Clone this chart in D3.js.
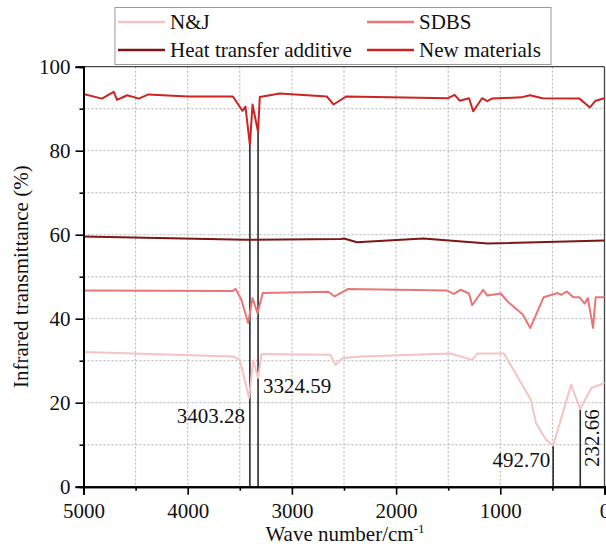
<!DOCTYPE html>
<html>
<head>
<meta charset="utf-8">
<script src="https://cdn.jsdelivr.net/npm/d3@7"></script>
<style>
  body { margin: 0; background: #fff; }
  svg { font-family: "Liberation Serif", "Times New Roman", serif; }
</style>
</head>
<body>
<div class="irChart"></div>
<script>
const WIDTH = 606;
const HEIGHT = 548;
const LEFT = 83.5, RIGHT = 604.5, TOP = 66.7, BOTTOM = 486.7;
const SERIF = '"Liberation Serif", "Times New Roman", serif';

// series: [wave number, transmittance]
var njData = [
    [5000, 32.1], [3566, 31], [3501, 30.2], [3411, 21.1], [3372, 30.1], [3324, 25.9],
    [3291, 31.6], [2631, 31.4], [2582, 29], [2517, 30.6], [2341, 31], [1480, 31.7],
    [1270, 30.2], [1222, 31.7], [965, 31.7], [706, 20.7], [658, 15.2], [561, 11.2],
    [493, 9.8], [320, 24.3], [233, 18.5], [126, 23.5], [0, 24.7]
];
var sdbsData = [
    [5000, 46.7], [3566, 46.6], [3540, 47.1], [3485, 44.5], [3420, 39.0], [3378, 44.9],
    [3330, 41.3], [3280, 46.1], [2650, 46.4], [2590, 45.3], [2460, 47.1], [1510, 46.7],
    [1445, 45.9], [1380, 46.9], [1300, 46.0], [1270, 43.2], [1165, 46.9], [1125, 45.5],
    [995, 46.0], [930, 44.1], [785, 41.0], [712, 37.8], [585, 45.1], [450, 46.1],
    [415, 45.7], [360, 46.5], [300, 45.1], [240, 45.1], [190, 43.6], [160, 44.9],
    [110, 37.8], [85, 45.1], [0, 45.1]
];
var heatData = [
    [5000, 59.6], [3450, 58.8], [2530, 59], [2500, 59.1], [2375, 58.2], [1740, 59.1],
    [1120, 57.9], [0, 58.6]
];
var newData = [
    [5000, 93.5], [4823, 92.4], [4710, 94.0], [4678, 92.1], [4581, 93.2], [4468, 92.4],
    [4378, 93.4], [4001, 92.9], [3566, 92.9], [3475, 89.5], [3446, 90.5], [3403, 81.4],
    [3378, 91], [3325, 84.5], [3308, 92.8], [3115, 93.6], [2665, 92.9], [2600, 91],
    [2480, 92.9], [1502, 92.5], [1438, 93.3], [1390, 91.9], [1300, 92.5], [1260, 89.4],
    [1175, 92.5], [1125, 91.8], [1080, 92.4], [800, 92.7], [715, 93.2], [595, 92.5],
    [240, 92.4], [140, 90.3], [85, 91.9], [0, 92.5]
];

var seriesNames = ['N&J', 'SDBS', 'Heat transfer additive', 'New materials'];
var seriesColors = ['#f6c3c3', '#e87676', '#7d1616', '#cc2323'];

// marked peaks
var peakWaves = [3403.28, 3324.59, 492.70, 232.66];
var peakTops = [81.4, 84.5, 9.8, 18.3];

var xTicks = [5000, 4000, 3000, 2000, 1000, 0];
var yTicks = [0, 20, 40, 60, 80, 100];

var x = d3.scaleLinear().domain([5000, 0]).range([LEFT, RIGHT]);
var y = d3.scaleLinear().domain([0, 100]).range([BOTTOM, TOP]);

var svg = d3.select('.irChart').append('svg')
    .attr('width', WIDTH)
    .attr('height', HEIGHT);

// grid
var grid = svg.append('g')
    .attr('stroke', '#b0b0b0').attr('stroke-width', 1).attr('stroke-dasharray', '2,2');
grid.selectAll('.vg').data(d3.range(4500, 0, -500)).enter().append('line')
    .attr('x1', d => x(d)).attr('x2', d => x(d))
    .attr('y1', TOP).attr('y2', BOTTOM);
grid.selectAll('.hg').data(d3.range(10, 100, 10)).enter().append('line')
    .attr('x1', LEFT).attr('x2', RIGHT)
    .attr('y1', d => y(d)).attr('y2', d => y(d));

// frame top / right
svg.append('line').attr('x1', LEFT).attr('x2', RIGHT).attr('y1', TOP).attr('y2', TOP)
    .attr('stroke', '#444').attr('stroke-width', 1.3);
svg.append('line').attr('x1', RIGHT).attr('x2', RIGHT).attr('y1', TOP).attr('y2', BOTTOM)
    .attr('stroke', '#444').attr('stroke-width', 1.3);

// peak marker lines
svg.append('g').selectAll('line').data(peakWaves).enter().append('line')
    .attr('x1', d => x(d)).attr('x2', d => x(d))
    .attr('y1', y(0)).attr('y2', (d, i) => y(peakTops[i]))
    .attr('stroke', '#2a2a2a').attr('stroke-width', 1.6);

// series lines
var line = d3.line().x(d => x(d[0])).y(d => y(d[1]));
[njData, sdbsData, heatData, newData].forEach(function (data, i) {
    svg.append('path')
        .attr('d', line(data))
        .attr('fill', 'none')
        .attr('stroke', seriesColors[i])
        .attr('stroke-width', 2)
        .attr('stroke-linejoin', 'round');
});

// axes
var xAxis = d3.axisBottom(x).tickValues(xTicks).tickSize(8).tickPadding(8).tickFormat(d3.format('d'));
var xMinor = d3.axisBottom(x).tickValues(d3.range(4500, 0, -1000)).tickSize(4).tickFormat('');
var yAxis = d3.axisLeft(y).tickValues(yTicks).tickSize(8).tickPadding(5).tickFormat(d3.format('d'));
var yMinor = d3.axisLeft(y).tickValues(d3.range(10, 100, 20)).tickSize(4).tickFormat('');

function styleAxis(g) {
    g.attr('font-family', SERIF).attr('font-size', 21);
    g.select('.domain').attr('stroke', '#000').attr('stroke-width', 2);
    g.selectAll('.tick line').attr('stroke', '#000').attr('stroke-width', 1.6);
    g.selectAll('.tick text').attr('fill', '#111').style('font-family', SERIF).style('font-size', '21px');
}
svg.append('g').attr('transform', 'translate(0,' + BOTTOM + ')').call(xMinor).call(styleAxis);
svg.append('g').attr('transform', 'translate(0,' + BOTTOM + ')').call(xAxis).call(styleAxis);
svg.append('g').attr('transform', 'translate(' + LEFT + ',0)').call(yMinor).call(styleAxis);
svg.append('g').attr('transform', 'translate(' + LEFT + ',0)').call(yAxis).call(styleAxis);

// axis titles
var xt = svg.append('text').attr('x', 345).attr('y', 541).attr('text-anchor', 'middle')
    .attr('font-size', 21).attr('fill', '#111').text('Wave number/cm');
xt.append('tspan').attr('dy', -8).attr('font-size', 13).text('-1');

svg.append('text')
    .attr('transform', 'translate(28,' + ((TOP + BOTTOM) / 2) + ') rotate(-90)')
    .attr('text-anchor', 'middle')
    .attr('font-size', 21).attr('fill', '#111')
    .text('Infrared transmittance (%)');

// peak labels
var fmt = d3.format('.2f');
svg.append('text').attr('x', x(peakWaves[0]) - 5).attr('y', 423).attr('text-anchor', 'end')
    .attr('font-size', 21).attr('fill', '#111').text(fmt(peakWaves[0]));
svg.append('text').attr('x', x(peakWaves[1]) + 5).attr('y', 393).attr('text-anchor', 'start')
    .attr('font-size', 21).attr('fill', '#111').text(fmt(peakWaves[1]));
svg.append('text').attr('x', x(peakWaves[2]) - 3).attr('y', 467).attr('text-anchor', 'end')
    .attr('font-size', 21).attr('fill', '#111').text(fmt(peakWaves[2]));
svg.append('text')
    .attr('transform', 'translate(' + (x(peakWaves[3]) + 19) + ',438) rotate(-90)')
    .attr('text-anchor', 'middle')
    .attr('font-size', 21).attr('fill', '#111').text(fmt(peakWaves[3]));

// legend
var legend = svg.append('g');
legend.append('rect').attr('x', 115).attr('y', 7.5).attr('width', 436).attr('height', 57)
    .attr('fill', '#fff').attr('stroke', '#9a9a9a').attr('stroke-width', 1);
var legPos = [[118, 22], [367, 22], [118, 50], [367, 50]];
seriesNames.forEach(function (name, i) {
    var p = legPos[i];
    legend.append('line').attr('x1', p[0]).attr('x2', p[0] + 47)
        .attr('y1', p[1]).attr('y2', p[1])
        .attr('stroke', seriesColors[i]).attr('stroke-width', 2.5);
    legend.append('text').attr('x', p[0] + 52).attr('y', p[1] + 7)
        .attr('font-size', 21).attr('fill', '#111').text(name);
});
</script>
</body>
</html>
